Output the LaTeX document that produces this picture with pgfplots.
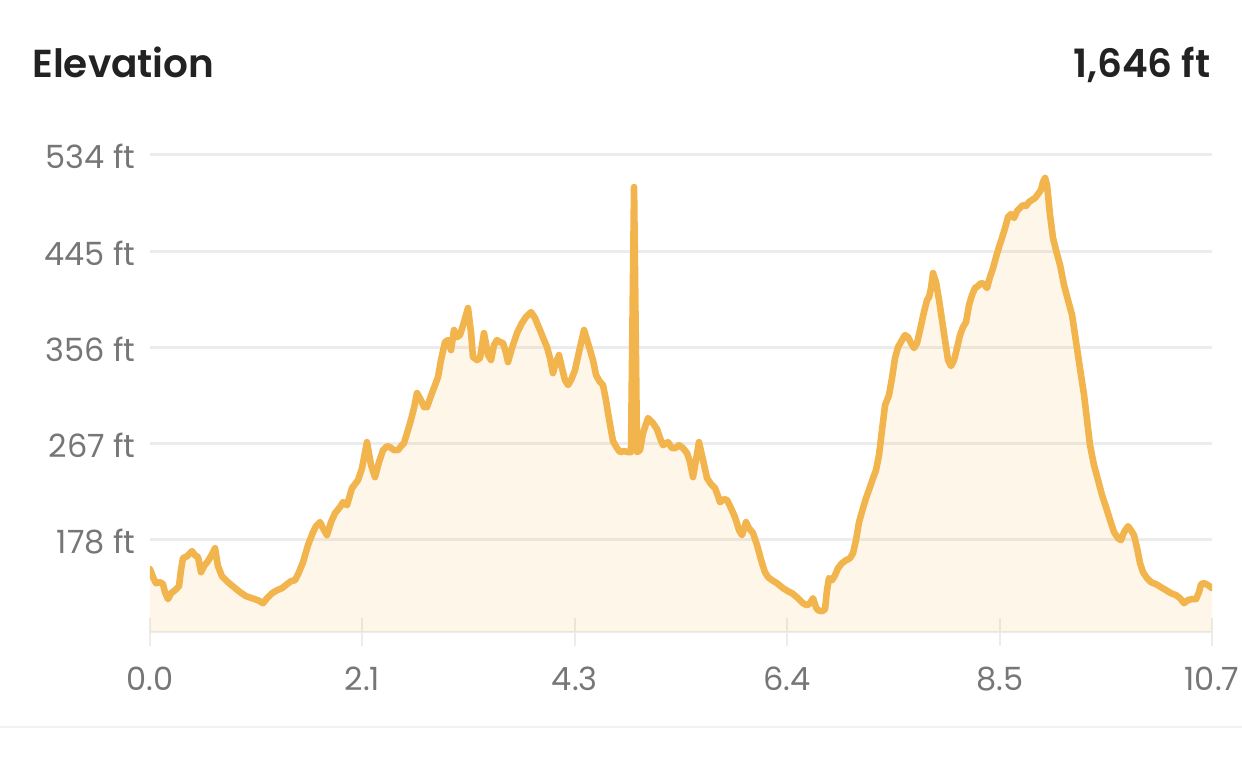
\documentclass[border=0pt]{standalone}
\usepackage{fontspec}
\setmainfont{Poppins}
\newfontfamily\titlefont{Poppins}[UprightFont={* SemiBold}]
\usepackage{pgfplots}
\usepackage{pgfplotstable}
\pgfplotsset{compat=1.18}
\definecolor{elev}{RGB}{242,180,77}
\definecolor{gridc}{RGB}{236,236,236}
\definecolor{tickc}{RGB}{118,118,118}
\definecolor{titlec}{RGB}{34,34,34}
\definecolor{sepc}{RGB}{242,242,242}

\pgfplotstableread{
x y
0.000 150.2
0.030 142.8
0.060 137.2
0.101 138.1
0.131 136.3
0.151 128.9
0.181 122.4
0.212 127.9
0.252 130.7
0.292 134.4
0.312 149.3
0.332 160.4
0.373 162.2
0.403 165.0
0.423 166.9
0.453 163.2
0.484 161.3
0.514 147.4
0.544 153.0
0.584 157.6
0.625 164.1
0.655 169.6
0.685 153.0
0.725 143.7
0.786 138.1
0.846 133.5
0.907 128.9
0.967 125.2
1.028 123.3
1.088 121.4
1.139 118.7
1.179 123.3
1.229 127.9
1.280 130.7
1.330 132.6
1.380 136.3
1.421 139.1
1.461 140.0
1.501 147.4
1.542 156.7
1.592 172.5
1.642 184.5
1.673 190.0
1.713 193.8
1.743 188.2
1.783 181.7
1.824 193.8
1.864 202.1
1.914 207.7
1.945 212.3
1.985 209.5
2.035 225.3
2.096 232.7
2.136 243.8
2.186 267.9
2.227 246.6
2.267 235.5
2.307 249.4
2.348 260.5
2.388 264.2
2.418 263.3
2.458 260.5
2.499 260.5
2.529 264.2
2.559 267.0
2.620 285.5
2.660 299.5
2.690 313.4
2.730 306.9
2.761 300.4
2.791 300.4
2.841 313.4
2.872 320.8
2.902 328.2
2.932 344.0
2.972 360.6
3.003 362.5
3.033 353.2
3.063 371.8
3.093 365.3
3.123 367.1
3.164 379.2
3.204 392.2
3.234 369.9
3.254 346.7
3.295 344.0
3.325 345.8
3.365 369.0
3.406 348.6
3.436 344.0
3.466 357.9
3.496 362.5
3.526 360.6
3.557 359.7
3.587 350.4
3.607 342.1
3.647 355.1
3.698 369.0
3.748 378.3
3.788 383.8
3.839 388.4
3.879 382.9
3.929 371.8
3.970 362.5
4.000 356.0
4.030 345.8
4.060 331.9
4.091 342.1
4.121 348.6
4.151 336.5
4.181 325.4
4.212 320.8
4.242 325.4
4.282 334.7
4.322 351.4
4.373 371.8
4.413 359.7
4.463 344.0
4.494 330.1
4.534 323.6
4.564 320.8
4.594 306.9
4.615 294.8
4.645 279.0
4.665 268.9
4.705 262.4
4.736 258.7
4.776 259.6
4.816 258.7
4.846 258.7
4.877 504.3
4.907 258.7
4.937 260.5
4.967 276.3
5.018 290.2
5.068 285.5
5.108 280.0
5.139 271.6
5.169 265.1
5.219 267.9
5.259 262.4
5.290 262.4
5.330 265.1
5.370 262.4
5.411 257.7
5.441 249.4
5.471 235.5
5.501 251.3
5.531 267.9
5.572 251.3
5.612 234.6
5.652 229.0
5.693 225.3
5.723 217.9
5.743 212.3
5.783 215.1
5.814 214.2
5.854 206.7
5.894 198.4
5.935 186.3
5.965 181.7
6.005 193.8
6.035 188.2
6.076 183.6
6.116 172.5
6.166 155.8
6.196 147.4
6.227 142.8
6.267 140.0
6.317 137.2
6.378 132.6
6.428 129.8
6.469 127.9
6.529 123.3
6.579 118.7
6.620 116.8
6.650 118.7
6.680 123.3
6.710 114.9
6.730 112.2
6.771 111.2
6.801 113.1
6.821 130.7
6.841 141.9
6.872 140.0
6.902 144.6
6.932 151.1
6.972 155.8
7.013 158.5
7.053 160.4
7.083 165.0
7.113 177.1
7.144 193.8
7.184 206.7
7.214 216.0
7.254 226.2
7.285 234.6
7.315 242.0
7.345 255.9
7.375 279.0
7.406 302.2
7.446 311.5
7.476 327.3
7.506 345.8
7.537 356.0
7.577 362.5
7.607 367.1
7.637 365.3
7.668 359.7
7.698 355.1
7.728 359.7
7.758 371.8
7.798 388.4
7.829 399.6
7.849 402.4
7.869 410.7
7.889 424.6
7.919 416.3
7.950 399.6
7.980 381.0
8.010 362.5
8.040 344.0
8.071 338.4
8.101 344.0
8.131 355.1
8.161 367.1
8.191 374.5
8.222 379.2
8.252 395.0
8.282 404.2
8.312 410.7
8.343 412.6
8.373 415.3
8.403 414.4
8.433 410.7
8.463 420.9
8.494 429.2
8.524 439.4
8.554 448.7
8.584 457.1
8.615 466.3
8.645 476.5
8.675 479.3
8.705 475.6
8.736 482.1
8.766 484.9
8.796 487.6
8.826 486.7
8.856 490.4
8.887 492.3
8.917 494.1
8.947 497.8
8.977 501.6
8.997 509.0
9.018 512.7
9.038 506.2
9.068 478.4
9.098 457.1
9.128 445.9
9.169 432.0
9.209 413.5
9.249 399.6
9.290 385.7
9.320 367.1
9.350 348.6
9.380 330.1
9.411 311.5
9.441 288.3
9.471 265.1
9.511 246.6
9.552 232.7
9.592 218.8
9.632 207.7
9.673 195.6
9.713 184.5
9.753 178.9
9.783 177.1
9.814 184.5
9.854 190.0
9.884 186.3
9.914 181.7
9.945 169.7
9.975 155.8
10.005 147.4
10.045 141.9
10.086 138.1
10.136 136.3
10.186 133.5
10.237 130.7
10.287 127.9
10.338 126.1
10.378 123.3
10.418 118.7
10.458 121.6
10.499 122.5
10.539 122.5
10.569 128.9
10.589 136.3
10.620 137.2
10.660 135.4
10.700 132.6
}\elevtable

\begin{document}
\begin{tikzpicture}
\useasboundingbox (-75pt,-65.5pt) rectangle (546pt,316pt);
\begin{axis}[
  at={(0pt,0pt)}, anchor=south west,
  scale only axis, width=531pt, height=238.5pt,
  xmin=0, xmax=10.7, ymin=92, ymax=534,
  enlargelimits=false,
  axis x line=bottom, axis y line=left,
  x axis line style={-, draw=gridc, line width=1.2pt},
  y axis line style={draw=none},
  xtick={0,2.14,4.28,6.42,8.56,10.7},
  xticklabels={0.0,2.1,4.3,6.4,8.5,10.7},
  ytick={178,267,356,445,534},
  yticklabels={178 ft,267 ft,356 ft,445 ft,534 ft},
  tick align=center,
  major tick length=14pt,
  xtick style={draw=gridc, line width=1pt},
  ytick style={draw=none},
  ymajorgrids=true,
  major grid style={draw=gridc, line width=1.5pt},
  xticklabel style={anchor=base, inner sep=0pt, yshift=-22.5pt, font=\fontsize{16}{19}\selectfont, text=tickc},
  yticklabel style={anchor=base east, inner sep=0pt, xshift=0pt, yshift=-7pt, font=\fontsize{16}{19}\selectfont, text=tickc},
  clip=true,
]
\addplot[draw=none, fill=elev, fill opacity=0.12] table[x=x,y=y] {\elevtable} \closedcycle;
\addplot[draw=elev, line width=3.3pt, line join=round, line cap=round] table[x=x,y=y] {\elevtable};
\end{axis}
\node[anchor=base west, inner sep=0pt, text=titlec, font=\fontsize{19.5}{24}\selectfont\titlefont] at (-59pt,277pt) {Elevation};
\node[anchor=base east, inner sep=0pt, text=titlec, font=\fontsize{19.5}{24}\selectfont\titlefont] at (530.5pt,277pt) {1,646 ft};
\draw[draw=sepc, line width=1pt] (-75pt,-47.5pt) -- (546pt,-47.5pt);
\end{tikzpicture}
\end{document}
